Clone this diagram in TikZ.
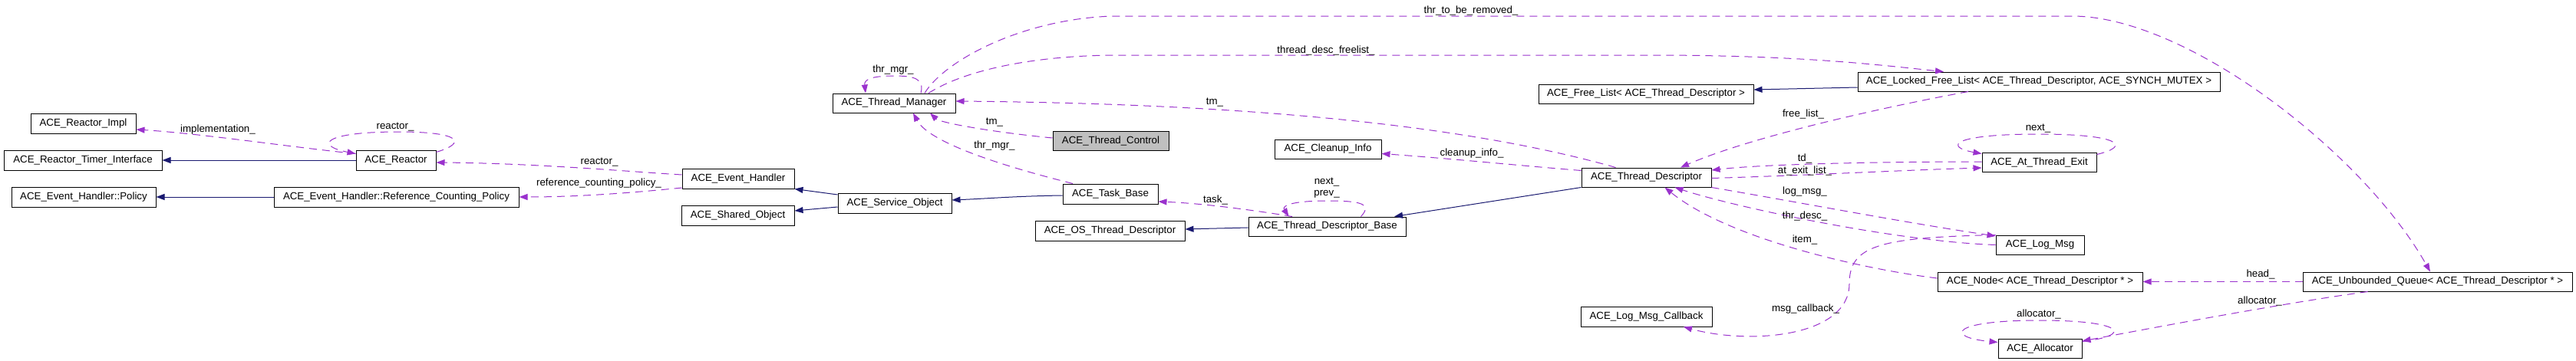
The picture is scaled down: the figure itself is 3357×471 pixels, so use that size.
\documentclass[tikz,border=0pt]{standalone}
\usepackage{fontspec}
\setmainfont{Liberation Sans}
\usetikzlibrary{arrows.meta}
\definecolor{usecol}{HTML}{9A32CD}
\definecolor{inhcol}{HTML}{191970}
\definecolor{tcfill}{HTML}{BFBFBF}
\newcommand\dgfont{\fontsize{13.3}{15}\selectfont}
\begin{document}
\begin{tikzpicture}[x=1pt,y=-1pt,
  cls/.style={draw=black, line width=1pt, fill=white, inner sep=0pt, minimum height=25pt, font=\dgfont},
  inh/.style={draw=inhcol, line width=1pt, -{Triangle[length=11pt,width=8pt]}},
  use/.style={draw=usecol, line width=1pt, dash pattern=on 10pt off 7pt, -{Triangle[length=11pt,width=8pt]}},
  lab/.style={inner sep=0pt, font=\dgfont, align=center, text=black}]
\fill[white] (0,0) rectangle (3357,471);
\useasboundingbox (0,0) rectangle (3357,471);

% classes
\node[cls, minimum width=137pt, minimum height=26pt] (RI) at (108.5,161) {ACE\_Reactor\_Impl};
\node[cls, minimum width=206pt, minimum height=26pt] (RTI) at (108,209) {ACE\_Reactor\_Timer\_Interface};
\node[cls, minimum width=188pt, minimum height=26pt] (POL) at (109,257) {ACE\_Event\_Handler::Policy};
\node[cls, minimum width=104pt, minimum height=26pt] (REA) at (516,209) {ACE\_Reactor};
\node[cls, minimum width=319pt, minimum height=26pt] (RCP) at (516.5,257) {ACE\_Event\_Handler::Reference\_Counting\_Policy};
\node[cls, minimum width=146pt, minimum height=26pt] (EH) at (962,233) {ACE\_Event\_Handler};
\node[cls, minimum width=147pt, minimum height=26pt] (SH) at (961.5,281) {ACE\_Shared\_Object};
\node[cls, minimum width=148pt, minimum height=26pt] (SO) at (1166,265) {ACE\_Service\_Object};
\node[cls, minimum width=160pt] (TM) at (1165,134.5) {ACE\_Thread\_Manager};
\node[cls, fill=tcfill, minimum width=151pt] (TC) at (1447.5,184) {ACE\_Thread\_Control};
\node[cls, minimum width=124pt, minimum height=26pt] (TB) at (1447,253) {ACE\_Task\_Base};
\node[cls, minimum width=195pt, minimum height=26pt] (OSTD) at (1446.5,301) {ACE\_OS\_Thread\_Descriptor};
\node[cls, minimum width=205pt] (TDB) at (1729.5,295.5) {ACE\_Thread\_Descriptor\_Base};
\node[cls, minimum width=139pt] (CI) at (1730.5,194.5) {ACE\_Cleanup\_Info};
\node[cls, minimum width=169pt] (TD) at (2145.5,231.5) {ACE\_Thread\_Descriptor};
\node[cls, minimum width=280pt] (FL) at (2145,122.5) {ACE\_Free\_List< ACE\_Thread\_Descriptor >};
\node[cls, minimum width=472pt] (LFL) at (2657,106.5) {ACE\_Locked\_Free\_List< ACE\_Thread\_Descriptor, ACE\_SYNCH\_MUTEX >};
\node[cls, minimum width=149pt] (ATE) at (2657.5,211.5) {ACE\_At\_Thread\_Exit};
\node[cls, minimum width=115pt] (LM) at (2658.5,319.5) {ACE\_Log\_Msg};
\node[cls, minimum width=267pt] (NODE) at (2658.5,367.5) {ACE\_Node< ACE\_Thread\_Descriptor * >};
\node[cls, minimum width=171pt, minimum height=26pt] (LMC) at (2145.5,413) {ACE\_Log\_Msg\_Callback};
\node[cls, minimum width=109pt] (ALLOC) at (2658.5,454.5) {ACE\_Allocator};
\node[cls, minimum width=351pt] (UQ) at (3176.5,367.5) {ACE\_Unbounded\_Queue< ACE\_Thread\_Descriptor * >};

% inheritance
\draw[inh] (REA.west) -- (RTI.east);
\draw[inh] (RCP.west) -- (POL.east);
\draw[inh] ([yshift=11pt]SO.west) -- (EH.south east);
\draw[inh] ([yshift=-5pt]SO.west) -- ([yshift=6pt]SH.east);
\draw[inh] ([yshift=-2pt]TB.west) .. controls (1320,256) and (1290,259) .. ([yshift=4pt]SO.east);
\draw[inh] ([yshift=-1.5pt]TDB.west) -- ([yshift=2pt]OSTD.east);
\draw[inh] (TD.south west) -- ([xshift=87.5pt]TDB.north);
\draw[inh] ([yshift=-7.5pt]LFL.west) -- ([yshift=5.5pt]FL.east);

% usage
\draw[use] ([yshift=-5pt]REA.north west) .. controls (380,192) and (260,174) .. ([yshift=-8pt]RI.east);
\node[lab] (limpl) at (284,169) {implementation\_};
\draw[use] ([yshift=-3pt]REA.north east) .. controls (610,186) and (600,172) .. (520,172) .. controls (420,172) and (410,190) .. ([yshift=-5pt]REA.north west);
\node[lab] (lreactor1) at (515,166) {reactor\_};
\draw[use] ([yshift=5pt]EH.west) .. controls (820,224) and (700,213) .. ([yshift=-3pt]REA.east);
\node[lab] (lreactor2) at (781,212) {reactor\_};
\draw[use] ([yshift=-12pt]EH.west) .. controls (820,252) and (750,257) .. (RCP.east);
\node[lab] (lrcp) at (780.5,239) {reference\_counting\_policy\_};

\draw[use] ([yshift=4pt]TC.west) .. controls (1290,172) and (1225,160) .. ([xshift=47pt]TM.south);
\node[lab] (ltm1) at (1296,160) {tm\_};
\draw[use] ([xshift=-49pt]TB.north) .. controls (1300,215) and (1210,185) .. ([xshift=25pt]TM.south);
\node[lab] (lthrmgr1) at (1296,190) {thr\_mgr\_};
\draw[use] ([xshift=35pt]TM.north) .. controls (1205,102) and (1190,99) .. (1165,99) .. controls (1135,99) and (1126,104) .. ([xshift=-37pt]TM.north);
\node[lab] (lthrmgr2) at (1164,91) {thr\_mgr\_};
\draw[use] ([xshift=-40pt]TD.north) .. controls (1900,160) and (1600,135) .. ([yshift=2.5pt]TM.east);
\node[lab] (ltm2) at (1583,134) {tm\_};
\draw[use] ([xshift=45pt]TM.north) .. controls (1260,90) and (1350,73) .. (1450,72) -- (2150,72) .. controls (2350,72) and (2450,85) .. ([xshift=-124pt]LFL.north);
\node[lab] (lfree) at (1728,66) {thread\_desc\_freelist\_};
\draw[use] ([xshift=40pt]TM.north) .. controls (1230,80) and (1330,25) .. (1450,21) -- (2700,21) .. controls (2850,21) and (3080,200) .. ([xshift=-9.5pt]UQ.north);
\node[lab] (lremoved) at (1917,14) {thr\_to\_be\_removed\_};

\draw[use] ([xshift=-92pt]LFL.south) .. controls (2480,135) and (2290,175) .. ([xshift=44.5pt]TD.north);
\node[lab] (lfreelist) at (2350,149) {free\_list\_};
\draw[use] ([yshift=9pt]TD.west) .. controls (1980,216) and (1880,206) .. ([yshift=-6pt]CI.east);
\node[lab] (lcleanup) at (1918,200) {cleanup\_info\_};
\draw[use] ([xshift=-45.5pt]TDB.north) .. controls (1620,272) and (1560,265) .. ([yshift=-10pt]TB.east);
\node[lab] (ltask) at (1584,261) {task\_};
\draw[use] ([xshift=44pt]TDB.north) .. controls (1790,265) and (1770,262) .. (1730,262) .. controls (1685,262) and (1670,268) .. ([xshift=-50pt]TDB.north);
\node[lab] (lnextprev) at (1729,245.5) {next\_\\prev\_};

\draw[use] ([yshift=0.5pt]ATE.west) .. controls (2450,211) and (2300,214) .. ([yshift=9.5pt]TD.east);
\node[lab] (ltd) at (2352,207) {td\_};
\draw[use] ([yshift=-1pt]TD.east) .. controls (2350,229) and (2480,222) .. ([yshift=-7.5pt]ATE.west);
\node[lab] (lexit) at (2352,223) {at\_exit\_list\_};
\draw[use] ([yshift=-3pt]ATE.north east) .. controls (2780,190) and (2760,175) .. (2657,175) .. controls (2540,175) and (2535,192) .. ([yshift=-2pt]ATE.north west);
\node[lab] (lnext) at (2656,168) {next\_};

\draw[use] (TD.south east) .. controls (2350,265) and (2480,290) .. ([yshift=11.5pt]LM.west);
\node[lab] (llogmsg) at (2352,250) {log\_msg\_};
\draw[use] (LM.west) .. controls (2470,315) and (2260,270) .. ([xshift=37pt]TD.south);
\node[lab] (lthrdesc) at (2352,282) {thr\_desc\_};
\draw[use] ([yshift=4.5pt]NODE.west) .. controls (2420,350) and (2250,310) .. ([xshift=24pt]TD.south);
\node[lab] (litem) at (2352,313) {item\_};
\draw[use] ([yshift=13pt]LM.west) .. controls (2450,310) and (2410,320) .. (2410,370) .. controls (2410,440) and (2280,450) .. ([xshift=48.5pt]LMC.south);
\node[lab] (lcallback) at (2353,403) {msg\_callback\_};

\draw[use] (UQ.west) -- (NODE.east);
\node[lab] (lhead) at (2946,358) {head\_};
\draw[use] ([xshift=-91pt]UQ.south) .. controls (2980,395) and (2820,425) .. ([yshift=9.5pt]ALLOC.east);
\node[lab] (lalloc1) at (2945,393) {allocator\_};
\draw[use] ([yshift=-4pt]ALLOC.north east) .. controls (2780,438) and (2770,418) .. (2658,418) .. controls (2540,418) and (2535,440) .. ([yshift=-5pt]ALLOC.north west);
\node[lab] (lalloc2) at (2657,410) {allocator\_};
\end{tikzpicture}
\end{document}
